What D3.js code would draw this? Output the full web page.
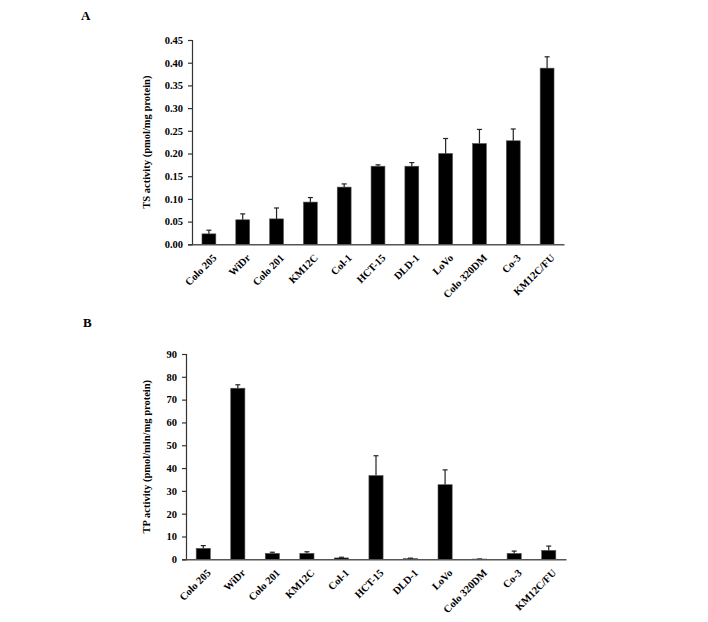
<!DOCTYPE html>
<html>
<head>
<meta charset="utf-8">
<script src="https://cdn.jsdelivr.net/npm/d3@7"></script>
<style>
  body { margin: 0; background: #fff; }
  svg text { font-family: "Liberation Serif", "Times New Roman", serif; font-weight: bold; fill: #000; }
</style>
</head>
<body>
<svg id="chart" width="708" height="622"></svg>
<script>
const cellLines = ["Colo 205", "WiDr", "Colo 201", "KM12C", "Col-1", "HCT-15", "DLD-1", "LoVo", "Colo 320DM", "Co-3", "KM12C/FU"];
const tsValues = [0.023, 0.054, 0.056, 0.093, 0.126, 0.172, 0.172, 0.200, 0.222, 0.228, 0.388];
const tsErrors = [0.008, 0.013, 0.024, 0.010, 0.007, 0.003, 0.008, 0.033, 0.031, 0.026, 0.025];
const tpValues = [4.8, 75.0, 2.6, 2.6, 0.6, 36.7, 0.3, 32.7, 0.1, 2.6, 3.9];
const tpErrors = [1.2, 1.5, 0.5, 0.7, 0.3, 8.7, 0.2, 6.5, 0.05, 1.0, 1.9];
const tsTicks = [0, 0.05, 0.10, 0.15, 0.20, 0.25, 0.30, 0.35, 0.40, 0.45];
const tpTicks = [0, 10, 20, 30, 40, 50, 60, 70, 80, 90];

const svg = d3.select("#chart");
const c45 = Math.SQRT1_2;

function panel(opts) {
  const { letter, letterPos, x0, x1, yTop, yBottom, max, ticks, fmt, values, errors, title, titleX } = opts;
  const x = d3.scaleBand().domain(cellLines).range([x0, x1]).paddingInner(0.59).paddingOuter(0.295);
  const y = d3.scaleLinear().domain([0, max]).range([yBottom, yTop]);

  svg.append("text").attr("x", letterPos[0]).attr("y", letterPos[1])
    .style("font-size", "13px").text(letter);

  // bars
  svg.append("g").selectAll("rect").data(values).join("rect")
    .attr("x", (d, i) => x(cellLines[i]))
    .attr("width", x.bandwidth())
    .attr("y", d => y(d))
    .attr("height", d => y(0) - y(d))
    .attr("fill", "#000")
    .attr("stroke", "#555").attr("stroke-width", 0.6);

  // error bars (upper only)
  const eg = svg.append("g").attr("stroke", "#222").attr("stroke-width", 1.2);
  values.forEach((v, i) => {
    const cx = x(cellLines[i]) + x.bandwidth() / 2;
    eg.append("line").attr("x1", cx).attr("x2", cx).attr("y1", y(v)).attr("y2", y(v + errors[i]));
    eg.append("line").attr("x1", cx - 2.5).attr("x2", cx + 2.5).attr("y1", y(v + errors[i])).attr("y2", y(v + errors[i]));
  });

  // y axis
  const ya = svg.append("g").attr("transform", `translate(${x0},0)`)
    .call(d3.axisLeft(y).tickValues(ticks).tickFormat(fmt).tickSize(4).tickPadding(5));
  ya.select(".domain").attr("stroke", "#333").attr("stroke-width", 1.2);
  ya.selectAll(".tick line").attr("stroke", "#333").attr("stroke-width", 1.2);
  ya.selectAll("text").style("font-size", "10.5px");

  // x axis (line only, labels drawn rotated)
  const xa = svg.append("g").attr("transform", `translate(0,${yBottom})`)
    .call(d3.axisBottom(x).tickSize(0).tickFormat(""));
  xa.select(".domain").attr("stroke", "#555").attr("stroke-width", 1.5);

  svg.append("g").selectAll("text").data(cellLines).join("text")
    .attr("transform", d => `matrix(${c45},${-c45},${c45},${c45},${x(d) + x.bandwidth() / 2 + 3},${yBottom + 9})`)
    .attr("text-anchor", "end")
    .attr("dy", "0.7em")
    .style("font-size", "10.5px")
    .text(d => d);

  // y title
  svg.append("text")
    .attr("transform", `translate(${titleX},${(yTop + yBottom) / 2}) rotate(-90)`)
    .attr("text-anchor", "middle")
    .style("font-size", "10.5px")
    .text(title);
}

panel({
  letter: "A", letterPos: [81, 20], x0: 192, x1: 564, yTop: 40, yBottom: 244.3, max: 0.45,
  ticks: tsTicks, fmt: d3.format(".2f"), values: tsValues, errors: tsErrors,
  title: "TS activity (pmol/mg protein)", titleX: 150
});
panel({
  letter: "B", letterPos: [83, 327], x0: 186, x1: 566, yTop: 354, yBottom: 559.3, max: 90,
  ticks: tpTicks, fmt: d3.format("d"), values: tpValues, errors: tpErrors,
  title: "TP activity (pmol/min/mg protein)", titleX: 150
});
</script>
</body>
</html>
